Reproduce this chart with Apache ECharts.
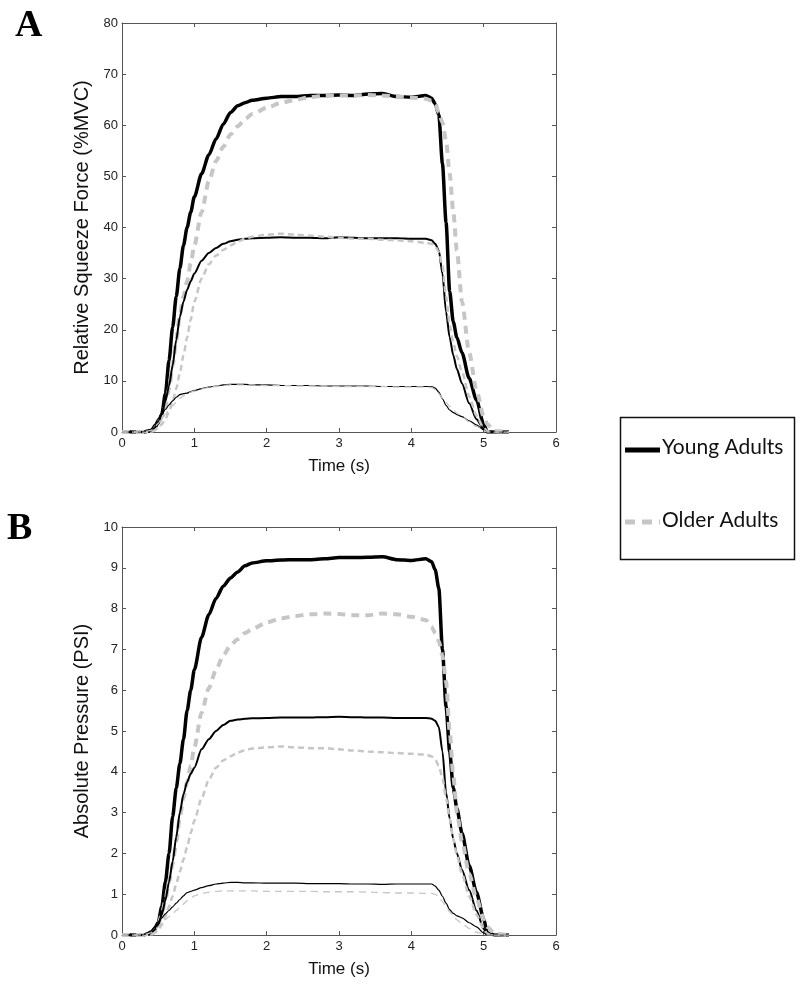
<!DOCTYPE html>
<html lang="en">
<head>
    <meta charset="UTF-8">
    <title>Squeeze force and pressure</title>
    <script src="https://cdn.jsdelivr.net/npm/echarts@6/dist/echarts.min.js"></script>
    <style>
        html, body { margin: 0; padding: 0; background: #fff; }
    </style>
</head>
<body>
    <div id="main" style="width: 800px;height: 987px"></div>
    <script type="text/javascript">
        // shared time base (s)
        var time = [0, 0.3, 0.4, 0.45, 0.5, 0.55, 0.6, 0.65, 0.7, 0.75,
            0.8, 0.85, 0.9, 0.95, 1.0, 1.1, 1.2, 1.3, 1.4, 1.5,
            1.6, 1.7, 1.8, 2.0, 2.2, 2.4, 2.6, 2.8, 3.0, 3.2,
            3.4, 3.6, 3.8, 4.0, 4.2, 4.28, 4.33, 4.38, 4.43, 4.48,
            4.53, 4.58, 4.63, 4.7, 4.8, 4.9, 5.0, 5.05, 5.15, 5.35];

        // A: relative squeeze force (%MVC)
        var youngHighA = [0, 0, 0.3, 0.8, 1.8, 3.5, 7.5, 14, 20.5, 26.5,
            32, 36.5, 40, 43, 46, 50.5, 54.2, 57.3, 60.2, 62.5,
            63.8, 64.4, 64.9, 65.3, 65.6, 65.6, 65.8, 65.8, 65.9, 65.8,
            66.1, 66.2, 65.6, 65.5, 65.8, 65.3, 64.2, 62, 52.5, 41,
            27.5, 21.5, 18.5, 15.5, 10.5, 6.3, 1.5, 0, 0, 0];
        var olderHighA = [0, 0, 0.2, 0.6, 1.5, 3, 5, 8.5, 13, 18,
            23, 26.5, 29.5, 33, 36.5, 43, 49, 53, 55.8, 58.2,
            59.8, 61.2, 62.2, 63.4, 64.4, 65, 65.5, 65.8, 65.8, 65.8,
            65.9, 65.8, 65.6, 65.4, 65.2, 64.8, 64, 62.5, 60.5, 57,
            50.5, 43, 35.5, 25.5, 15.5, 8.2, 3, 1.5, 0.2, 0];
        var youngMidA = [0, 0, 0.3, 0.8, 1.8, 3.5, 6, 9, 13, 18,
            22.5, 25.5, 27.8, 29.5, 31, 33.5, 35, 36, 36.8, 37.3,
            37.6, 37.8, 37.9, 38, 38.1, 38, 38, 37.9, 38.1, 38,
            37.9, 37.9, 37.9, 37.8, 37.8, 37.5, 36.8, 35.5, 31, 23.5,
            18.5, 15, 12.3, 9.5, 5.6, 2.5, 0.6, 0, 0, 0];
        var olderMidA = [0, 0, 0, 0.3, 0.8, 1.5, 2.5, 4, 6, 8.5,
            11.5, 15, 18.5, 22, 25.5, 30, 32.8, 34.5, 35.6, 36.5,
            37.2, 37.8, 38.2, 38.6, 38.8, 38.6, 38.4, 38.2, 38, 37.8,
            37.8, 37.6, 37.5, 37.3, 37, 36.8, 36.3, 35.2, 32.5, 26.5,
            21, 17.5, 14.8, 11.8, 7, 3.2, 0.8, 0.2, 0, 0];
        var youngLowA = [0, 0, 0.5, 1.5, 2.6, 3.5, 4.4, 5.3, 6.1, 6.8,
            7.3, 7.5, 7.6, 7.9, 8.1, 8.5, 8.8, 9.0, 9.2, 9.3,
            9.3, 9.3, 9.2, 9.2, 9.1, 9.1, 9.1, 9.0, 9.0, 9.0,
            9.0, 8.9, 8.9, 8.9, 8.9, 8.9, 8.6, 7.8, 6.5, 5.2,
            4.3, 3.8, 3.4, 3.0, 2.2, 1.4, 0.4, 0, 0, 0];
        var olderLowA = [0, 0, 0.3, 0.9, 1.7, 2.6, 3.5, 4.3, 5.1, 5.9,
            6.6, 7.1, 7.5, 7.8, 8.0, 8.4, 8.7, 8.9, 9.1, 9.2,
            9.2, 9.2, 9.2, 9.1, 9.1, 9.0, 9.0, 9.0, 8.9, 8.9,
            8.9, 8.9, 8.8, 8.8, 8.8, 8.7, 8.3, 7.5, 6.6, 5.8,
            5.0, 4.3, 3.7, 3.0, 2.0, 1.1, 0.3, 0, 0, 0];

        // B: absolute pressure (PSI)
        var youngHighB = [0, 0, 0.05, 0.15, 0.3, 0.7, 1.3, 2.0, 2.9, 3.6,
            4.2, 4.8, 5.5, 6.0, 6.5, 7.3, 7.85, 8.25, 8.55, 8.75,
            8.9, 9.05, 9.12, 9.17, 9.19, 9.2, 9.2, 9.22, 9.25, 9.25,
            9.26, 9.27, 9.2, 9.18, 9.22, 9.15, 8.95, 8.5, 7.0, 5.6,
            4.5, 3.6, 3.1, 2.5, 1.7, 1.05, 0.4, 0.05, 0, 0];
        var olderHighB = [0, 0, 0.03, 0.1, 0.25, 0.5, 0.85, 1.3, 1.75, 2.3,
            2.9, 3.35, 3.75, 4.15, 4.6, 5.45, 6.05, 6.5, 6.85, 7.1,
            7.25, 7.4, 7.5, 7.66, 7.76, 7.82, 7.86, 7.88, 7.87, 7.84,
            7.84, 7.88, 7.86, 7.8, 7.72, 7.55, 7.4, 7.2, 6.85, 6.2,
            5.0, 3.9, 3.0, 2.3, 1.5, 0.9, 0.4, 0.2, 0.03, 0];
        var youngMidB = [0, 0, 0.05, 0.12, 0.25, 0.5, 0.85, 1.3, 1.8, 2.4,
            3.0, 3.45, 3.75, 3.95, 4.1, 4.55, 4.8, 5.0, 5.15, 5.25,
            5.28, 5.3, 5.31, 5.32, 5.33, 5.33, 5.33, 5.34, 5.35, 5.34,
            5.33, 5.33, 5.32, 5.32, 5.32, 5.3, 5.25, 5.1, 4.5, 3.5,
            2.85, 2.35, 2.0, 1.6, 1.1, 0.6, 0.15, 0, 0, 0];
        var olderMidB = [0, 0, 0, 0.05, 0.12, 0.25, 0.45, 0.7, 0.95, 1.25,
            1.55, 1.85, 2.15, 2.5, 2.8, 3.35, 3.8, 4.1, 4.28, 4.38,
            4.47, 4.53, 4.57, 4.6, 4.62, 4.6, 4.58, 4.58, 4.55, 4.52,
            4.5, 4.48, 4.46, 4.44, 4.42, 4.38, 4.3, 4.15, 3.85, 3.35,
            2.85, 2.35, 1.95, 1.5, 0.95, 0.5, 0.15, 0.03, 0, 0];
        var youngLowB = [0, 0, 0.1, 0.2, 0.32, 0.42, 0.52, 0.6, 0.69, 0.78,
            0.87, 0.96, 1.04, 1.07, 1.1, 1.16, 1.21, 1.25, 1.27, 1.29,
            1.29, 1.28, 1.28, 1.27, 1.27, 1.27, 1.26, 1.26, 1.26, 1.25,
            1.25, 1.24, 1.25, 1.25, 1.25, 1.25, 1.2, 1.1, 0.95, 0.78,
            0.62, 0.53, 0.47, 0.42, 0.3, 0.2, 0.05, 0, 0, 0];
        var olderLowB = [0, 0, 0.05, 0.12, 0.2, 0.3, 0.38, 0.45, 0.52, 0.6,
            0.68, 0.76, 0.84, 0.9, 0.96, 1.02, 1.05, 1.07, 1.08, 1.08,
            1.08, 1.08, 1.08, 1.07, 1.07, 1.07, 1.07, 1.06, 1.06, 1.06,
            1.05, 1.04, 1.03, 1.03, 1.02, 1.02, 1.0, 0.93, 0.82, 0.7,
            0.57, 0.46, 0.37, 0.28, 0.16, 0.07, 0.02, 0, 0, 0];

        var timeTicks = ['0', '1', '2', '3', '4', '5', '6'];
        var legendNames = ['Young Adults', 'Older Adults'];

        var myChart = echarts.init(document.getElementById('main'));

        var font = 'Liberation Sans';
        var axisColor = '#555';
        var gray = '#c6c6c6';

        function pairs(vals) {
            return time.map(function (t, i) { return [t, vals[i]]; });
        }

        function xAx(grid, pos) {
            var main = pos === 'bottom';
            return {
                gridIndex: grid, type: 'value', position: pos,
                min: 0, max: 6, interval: 1,
                axisLine: { show: true, onZero: false, lineStyle: { color: axisColor, width: 1 } },
                axisTick: { show: true, inside: true, length: 4, lineStyle: { color: axisColor } },
                axisLabel: {
                    show: main, margin: 5, color: '#222', fontSize: 13, fontFamily: font,
                    formatter: function (v) { return timeTicks[Math.round(v)]; }
                },
                splitLine: { show: false },
                name: main ? 'Time (s)' : '',
                nameLocation: 'middle', nameGap: 26,
                nameTextStyle: { color: '#111', fontSize: 17, fontFamily: font }
            };
        }

        function yAx(grid, pos, max, interval, title) {
            var main = pos === 'left';
            return {
                gridIndex: grid, type: 'value', position: pos,
                min: 0, max: max, interval: interval,
                axisLine: { show: true, onZero: false, lineStyle: { color: axisColor, width: 1 } },
                axisTick: { show: true, inside: true, length: 4, lineStyle: { color: axisColor } },
                axisLabel: { show: main, margin: 4, color: '#222', fontSize: 13, fontFamily: font },
                splitLine: { show: false },
                name: main ? title : '',
                nameLocation: 'middle', nameGap: 20,
                nameTextStyle: { color: '#111', fontSize: 20, fontFamily: font }
            };
        }

        function line(name, grid, vals, color, width, dash) {
            return {
                name: name, type: 'line',
                xAxisIndex: grid * 2, yAxisIndex: grid * 2,
                data: pairs(vals),
                symbol: 'none', showSymbol: false,
                smooth: 0.25, smoothMonotone: 'x',
                lineStyle: { color: color, width: width, type: dash || 'solid' },
                itemStyle: { color: color },
                emphasis: { disabled: true }
            };
        }

        var series = [
            line(legendNames[0], 0, youngHighA, '#000', 3.5),
            line(legendNames[1], 0, olderHighA, gray, 4, [8, 6]),
            line(legendNames[0], 0, youngMidA, '#000', 2),
            line(legendNames[1], 0, olderMidA, gray, 2.5, [6, 4]),
            line(legendNames[0], 0, youngLowA, '#000', 1.2),
            line(legendNames[1], 0, olderLowA, gray, 1.3, [7, 5]),
            line(legendNames[0], 1, youngHighB, '#000', 3.5),
            line(legendNames[1], 1, olderHighB, gray, 4, [8, 6]),
            line(legendNames[0], 1, youngMidB, '#000', 2),
            line(legendNames[1], 1, olderMidB, gray, 2.5, [6, 4]),
            line(legendNames[0], 1, youngLowB, '#000', 1.2),
            line(legendNames[1], 1, olderLowB, gray, 1.3, [7, 5])
        ];

        // hand-drawn legend box (line keys without markers)
        var legendFont = { fontSize: 21, fontFamily: 'Lato', fill: '#111' };
        var legendGraphic = [
            {
                type: 'rect', left: 618, top: 415,
                shape: { width: 174, height: 142 },
                style: { fill: 'none', stroke: '#111', lineWidth: 1.5 }
            },
            {
                type: 'line', shape: { x1: 625, y1: 450, x2: 660, y2: 450 },
                style: { stroke: '#000', lineWidth: 5 }
            },
            {
                type: 'text', left: 662, top: 437,
                style: Object.assign({ text: legendNames[0] }, legendFont)
            },
            {
                type: 'line', shape: { x1: 625, y1: 522, x2: 660, y2: 522 },
                style: { stroke: gray, lineWidth: 5, lineDash: [10, 7] }
            },
            {
                type: 'text', left: 662, top: 510,
                style: Object.assign({ text: legendNames[1] }, legendFont)
            }
        ];

        var option = {
            animation: false,
            backgroundColor: '#fff',
            grid: [
                { left: 122, top: 23, width: 434, height: 409 },
                { left: 122, top: 527, width: 434, height: 408 }
            ],
            xAxis: [xAx(0, 'bottom'), xAx(0, 'top'), xAx(1, 'bottom'), xAx(1, 'top')],
            yAxis: [
                yAx(0, 'left', 80, 10, 'Relative Squeeze Force (%MVC)'),
                yAx(0, 'right', 80, 10, ''),
                yAx(1, 'left', 10, 1, 'Absolute Pressure (PSI)'),
                yAx(1, 'right', 10, 1, '')
            ],
            graphic: legendGraphic.concat([
                {
                    type: 'text', left: 15, top: 7,
                    style: { text: 'A', fontSize: 38, fontWeight: 'bold', fontFamily: 'Liberation Serif', fill: '#000' }
                },
                {
                    type: 'text', left: 7, top: 510,
                    style: { text: 'B', fontSize: 38, fontWeight: 'bold', fontFamily: 'Liberation Serif', fill: '#000' }
                }
            ]),
            series: series
        };

        myChart.setOption(option);
    </script>
</body>
</html>
